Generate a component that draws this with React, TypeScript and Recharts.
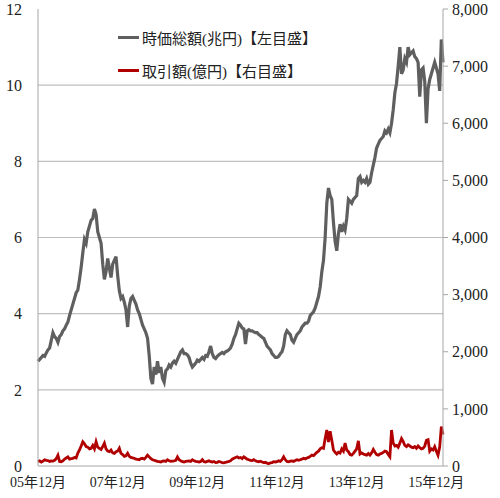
import { ComposedChart, Line, XAxis, YAxis, ReferenceLine } from 'recharts'

// semi-monthly points, 05年12月 .. 16年2月
const MARKET_CAP = [
  2.75, 2.8, 2.85, 2.9, 2.88, 2.97, 3.05, 3.1, 3.3, 3.5, 3.4, 3.35, 3.25, 3.4, 3.45, 3.55, 3.6, 3.7, 3.78, 3.95, 4.1, 4.25, 4.4, 4.55,
  4.62, 4.9, 5.22, 5.6, 5.95, 5.85, 6.15, 6.3, 6.45, 6.5, 6.75, 6.6, 6.15, 6.0, 5.85, 5.3, 4.9, 5.1, 5.45, 5.2, 4.95, 5.3, 5.4, 5.5,
  5.0, 4.6, 4.4, 4.45, 4.3, 4.1, 3.65, 4.2, 4.4, 4.45, 4.35, 4.25, 4.1, 4.0, 3.85, 3.7, 3.6, 3.5, 3.35, 2.9, 2.3, 2.15, 2.6, 2.4,
  2.75, 2.45, 2.6, 2.3, 2.2, 2.5, 2.55, 2.65, 2.6, 2.7, 2.75, 2.7, 2.8, 2.9, 3.0, 3.05, 2.95, 2.95, 2.92, 2.85, 2.7, 2.6, 2.65, 2.7,
  2.78, 2.75, 2.8, 2.85, 2.8, 2.9, 2.88, 3.0, 3.15, 2.95, 2.85, 2.82, 2.88, 2.92, 2.95, 2.98, 2.95, 3.0, 3.02, 3.05, 3.1, 3.2, 3.35, 3.45,
  3.6, 3.75, 3.7, 3.62, 3.6, 3.2, 3.55, 3.58, 3.55, 3.55, 3.52, 3.5, 3.5, 3.45, 3.42, 3.38, 3.35, 3.25, 3.15, 3.1, 3.05, 2.95, 2.9, 2.85,
  2.85, 2.88, 2.95, 3.0, 3.15, 3.45, 3.55, 3.5, 3.45, 3.3, 3.25, 3.35, 3.45, 3.5, 3.55, 3.65, 3.7, 3.75, 3.75, 3.8, 3.95, 4.0, 4.05, 4.15,
  4.3, 4.45, 4.7, 5.1, 5.4, 6.0, 6.9, 7.3, 7.1, 7.0, 6.4, 5.9, 5.65, 6.1, 6.35, 6.15, 6.3, 6.2, 6.5, 7.0, 6.95, 6.9, 7.0, 7.05,
  7.1, 7.55, 7.6, 7.45, 7.5, 7.45, 7.55, 7.4, 7.45, 7.7, 7.9, 8.1, 8.35, 8.45, 8.55, 8.6, 8.65, 8.8, 8.75, 8.85, 8.75, 9.0, 9.35, 9.8,
  10.05, 10.5, 11.0, 10.3, 10.4, 10.7, 10.6, 11.0, 10.8, 10.85, 10.9, 10.75, 10.7, 10.6, 9.7, 10.4, 10.45, 10.1, 9.0, 9.9, 10.15, 10.3, 10.45, 10.6,
  10.45, 10.3, 9.85, 11.2, 10.6,
]

const TRADING_VALUE = [
  75, 90, 70, 85, 110, 100, 95, 80, 90, 85, 100, 130, 190, 80, 75, 90, 120, 140, 160, 120, 130, 135, 150, 140,
  225, 280, 350, 425, 390, 340, 330, 300, 310, 360, 300, 425, 330, 310, 290, 340, 400, 300, 260, 250, 280, 230, 220, 250,
  260, 310, 220, 200, 170, 180, 225, 170, 150, 140, 135, 120, 115, 110, 130, 135, 120, 150, 190, 160, 130, 110, 100, 90,
  80, 75, 70, 85, 90, 80, 110, 90, 80, 85, 90, 100, 160, 110, 90, 75, 70, 80, 85, 90, 80, 110, 90, 80,
  75, 70, 80, 110, 75, 70, 80, 90, 75, 70, 80, 60, 65, 80, 70, 60, 55, 65, 70, 80, 90, 120, 135, 150,
  160, 140, 150, 130, 160, 140, 120, 110, 100, 95, 110, 90, 80, 75, 85, 70, 60, 65, 50, 40, 55, 60, 75, 70,
  75, 90, 80, 110, 160, 110, 80, 75, 85, 90, 80, 95, 110, 100, 110, 120, 135, 125, 140, 150, 170, 190, 180, 210,
  240, 260, 300, 320, 310, 480, 630, 420, 610, 450, 280, 240, 210, 240, 225, 300, 260, 400, 280, 250, 200, 190, 220, 260,
  300, 440, 210, 230, 210, 200, 190, 220, 190, 230, 290, 240, 200, 190, 210, 220, 240, 260, 250, 200, 160, 630, 400, 350,
  360, 330, 400, 480, 430, 360, 340, 370, 350, 330, 320, 340, 310, 350, 320, 300, 310, 350, 450, 460, 260, 300, 280, 340,
  260, 190, 330, 690, 550,
]

const X_LABELS = ['05年12月', '07年12月', '09年12月', '11年12月', '13年12月', '15年12月']
const X_TICKS = [0, 48, 96, 144, 192, 240]
const LEFT_TICKS = [0, 2, 4, 6, 8, 10, 12]
const RIGHT_TICKS = [0, 1000, 2000, 3000, 4000, 5000, 6000, 7000, 8000]
const GRID_VALUES = [2, 4, 6, 8, 10]

const LEGEND_ITEMS = [
  { label: '時価総額(兆円)【左目盛】', color: '#5f5f5f' },
  { label: '取引額(億円)【右目盛】', color: '#b00000' },
]

const data = MARKET_CAP.map((v, i) => ({ i, cap: v, trade: TRADING_VALUE[i] }))

const FONT = "'Liberation Serif', 'Noto Sans CJK JP', serif"
const AXIS_COLOR = '#a6a6a6'

export default function App() {
  const tickStyle = { fontFamily: FONT, fontSize: 16, fill: '#222' }
  return (
    <div style={{ position: 'absolute', left: 0, top: 0, width: 500, height: 498, background: '#fff' }}>
      <ComposedChart width={500} height={498} data={data} margin={{ top: 9, right: 5, bottom: 7, left: 0 }}>
        <XAxis
          dataKey="i"
          type="number"
          domain={[0, 244]}
          ticks={X_TICKS}
          tickFormatter={(v) => X_LABELS[X_TICKS.indexOf(v)]}
          tickLine={false}
          tickSize={6}
          tickMargin={5}
          height={25}
          stroke={AXIS_COLOR}
          tick={{ ...tickStyle, fontSize: 14 }}
          interval={0}
        />
        <YAxis
          yAxisId="left"
          domain={[0, 12]}
          ticks={LEFT_TICKS}
          tickLine={false}
          tickSize={6}
          tickMargin={10}
          width={38}
          stroke={AXIS_COLOR}
          tick={tickStyle}
          interval={0}
        />
        <YAxis
          yAxisId="right"
          orientation="right"
          domain={[0, 8000]}
          ticks={RIGHT_TICKS}
          tickFormatter={(v) => v.toLocaleString('en-US')}
          tickSize={5}
          tickMargin={4}
          width={52}
          stroke={AXIS_COLOR}
          tick={tickStyle}
          interval={0}
        />
        {GRID_VALUES.map((v) => (
          <ReferenceLine key={v} yAxisId="left" y={v} stroke="#bfbfbf" strokeWidth={1.2} />
        ))}
        <Line
          yAxisId="right"
          dataKey="trade"
          stroke="#b00000"
          strokeWidth={2.8}
          dot={false}
          isAnimationActive={false}
        />
        <Line
          yAxisId="left"
          dataKey="cap"
          stroke="#5f5f5f"
          strokeWidth={3.2}
          dot={false}
          isAnimationActive={false}
        />
      </ComposedChart>
      <div style={{ position: 'absolute', left: 118, top: 21, fontFamily: FONT, fontSize: 15, color: '#222' }}>
        {LEGEND_ITEMS.map((item) => (
          <div key={item.label} style={{ display: 'flex', alignItems: 'center', height: 33, whiteSpace: 'nowrap' }}>
            <span style={{ width: 21, height: 3, background: item.color, marginRight: 3 }} />
            {item.label}
          </div>
        ))}
      </div>
    </div>
  )
}
